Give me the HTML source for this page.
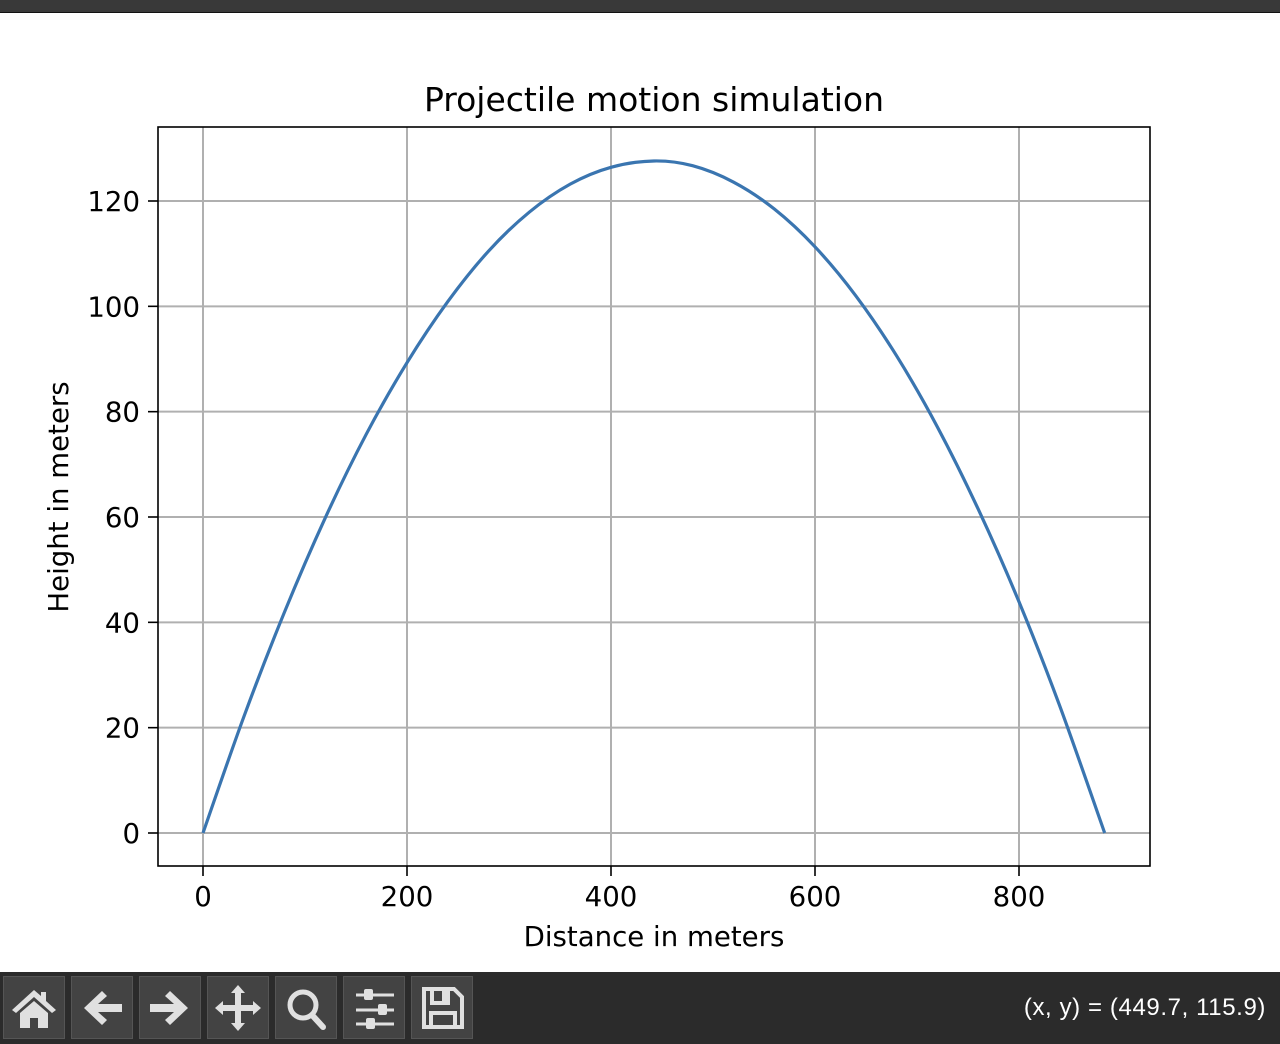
<!DOCTYPE html>
<html><head><meta charset="utf-8"><style>
body{margin:0;width:1280px;height:1044px;overflow:hidden;background:#fff;font-family:"DejaVu Sans","Liberation Sans",sans-serif;position:relative}
.top{position:absolute;left:0;top:0;width:1280px;height:12px;background:#393939;border-bottom:1px solid #111}
.tb{position:absolute;left:0;top:972px;width:1280px;height:72px;background:#2b2b2b}
.btn{position:absolute;top:4px;width:62px;height:63px;background:#434343;border:1px solid #555;box-sizing:border-box}
.coord{position:absolute;right:14px;top:22px;color:#fff;font-size:24px;letter-spacing:0.6px;font-family:"Liberation Sans",sans-serif}
</style></head><body>
<div class="top"></div>
<svg id="chart" width="1280" height="972" style="position:absolute;left:0;top:0"></svg>
<div class="tb">
<div class="btn" style="left:3px"><svg width="60" height="60" viewBox="0 0 60 60"><path d="M30 13 L8 33 L12 36 L30 20 L48 36 L52 33 L42 24 L42 15 L37 15 L37 19 Z M16 36 L16 51 L26 51 L26 41 L34 41 L34 51 L44 51 L44 36 L30 24 Z" fill="#e0e0e0"/></svg></div>
<div class="btn" style="left:71px"><svg width="60" height="60" viewBox="0 0 60 60"><path d="M12 31 L30 14 L35 19 L26 27 L50 27 L50 35 L26 35 L35 43 L30 48 Z" fill="#e0e0e0"/></svg></div>
<div class="btn" style="left:139px"><svg width="60" height="60" viewBox="0 0 60 60"><path d="M48 31 L30 14 L25 19 L34 27 L10 27 L10 35 L34 35 L25 43 L30 48 Z" fill="#e0e0e0"/></svg></div>
<div class="btn" style="left:207px"><svg width="60" height="60" viewBox="0 0 60 60"><path d="M30 8 L37 16 L33 16 L33 28 L45 28 L45 24 L53 31 L45 38 L45 34 L33 34 L33 46 L37 46 L30 54 L23 46 L27 46 L27 34 L15 34 L15 38 L7 31 L15 24 L15 28 L27 28 L27 16 L23 16 Z" fill="#e0e0e0"/></svg></div>
<div class="btn" style="left:275px"><svg width="60" height="60" viewBox="0 0 60 60"><circle cx="27" cy="28" r="13" fill="none" stroke="#e0e0e0" stroke-width="5"/><path d="M36 38 L47 50" stroke="#e0e0e0" stroke-width="6" stroke-linecap="round"/></svg></div>
<div class="btn" style="left:343px"><svg width="60" height="60" viewBox="0 0 60 60"><g stroke="#e0e0e0" stroke-width="3"><path d="M12 18H50M12 33H50M12 47H50"/></g><g fill="#e0e0e0"><rect x="20" y="12" width="9" height="11" rx="2"/><rect x="34" y="27" width="9" height="11" rx="2"/><rect x="22" y="41" width="9" height="11" rx="2"/></g></svg></div>
<div class="btn" style="left:411px"><svg width="60" height="60" viewBox="0 0 60 60"><path d="M12 12 H42 L50 20 V50 H12 Z" fill="none" stroke="#e0e0e0" stroke-width="4"/><rect x="20" y="12" width="16" height="14" fill="none" stroke="#e0e0e0" stroke-width="4"/><rect x="30" y="14" width="4" height="10" fill="#e0e0e0"/><rect x="19" y="36" width="24" height="14" fill="none" stroke="#e0e0e0" stroke-width="4"/></svg></div>
<div class="coord">(x, y) = (449.7, 115.9)</div>
</div>
<script>
const xData=[0,40,80,120,160,200,240,280,320,360,400,442,480,520,560,600,640,680,720,760,800,840,884];
const yData=[0,22.05,42.0,59.9,75.7,89.3,100.9,110.5,117.9,123.2,126.4,127.6,126.7,123.6,118.5,111.3,102.0,90.6,77.1,61.5,43.9,24.1,0];
const xTicks=[0,200,400,600,800];
const yTicks=[0,20,40,60,80,100,120];
const NS="http://www.w3.org/2000/svg";
const svg=document.getElementById('chart');
const L=158,R=1150,T=127,B=866;
const sx=v=>203+v*(1019-203)/800;
const sy=v=>833-v*(833-201)/120;
function mk(tag,attrs,parent){const e=document.createElementNS(NS,tag);for(const k in attrs)e.setAttribute(k,attrs[k]);(parent||svg).appendChild(e);return e;}
xTicks.forEach(t=>{
 const g=mk('line',{x1:sx(t),x2:sx(t),y1:T,y2:B,stroke:'#b0b0b0','stroke-width':2});
 
 
 const tk=mk('line',{x1:sx(t),x2:sx(t),y1:B,y2:B+10,stroke:'#000','stroke-width':1.6});
 
 
 const tx=mk('text',{x:sx(t),y:B+40,'text-anchor':'middle','font-size':27.6});
 tx.textContent=t;
 
 
});
yTicks.forEach(t=>{
 const g=mk('line',{x1:L,x2:R,y1:sy(t),y2:sy(t),stroke:'#b0b0b0','stroke-width':2});
 
 
 const tk=mk('line',{x1:L-10,x2:L,y1:sy(t),y2:sy(t),stroke:'#000','stroke-width':1.6});
 
 
 const tx=mk('text',{x:L-18,y:sy(t)+10,'text-anchor':'end','font-size':27.6});
 tx.textContent=t;
 
 
});
const P=xData.map((x,i)=>[sx(x),sy(yData[i])]);
let d='M'+P[0][0]+','+P[0][1];
for(let i=0;i<P.length-1;i++){
 const p0=P[Math.max(0,i-1)],p1=P[i],p2=P[i+1],p3=P[Math.min(P.length-1,i+2)];
 const c1=[p1[0]+(p2[0]-p0[0])/6,p1[1]+(p2[1]-p0[1])/6];
 const c2=[p2[0]-(p3[0]-p1[0])/6,p2[1]-(p3[1]-p1[1])/6];
 d+=' C'+c1+' '+c2+' '+p2;
}
const line=mk('path',{d:d,fill:'none',stroke:'#3a75b0','stroke-width':3.2,'stroke-linejoin':'round'});


const fr=mk('rect',{x:L,y:T,width:R-L,height:B-T,fill:'none',stroke:'#000','stroke-width':1.6});


const ti=mk('text',{x:(L+R)/2,y:111,'text-anchor':'middle','font-size':33});
ti.textContent='Projectile motion simulation';


const xl=mk('text',{x:(L+R)/2,y:946,'text-anchor':'middle','font-size':27.6});
xl.textContent='Distance in meters';


const yl=mk('text',{x:0,y:0,'text-anchor':'middle','font-size':27.6,transform:'translate(68,497) rotate(-90)'});
yl.textContent='Height in meters';


</script>
</body></html>
